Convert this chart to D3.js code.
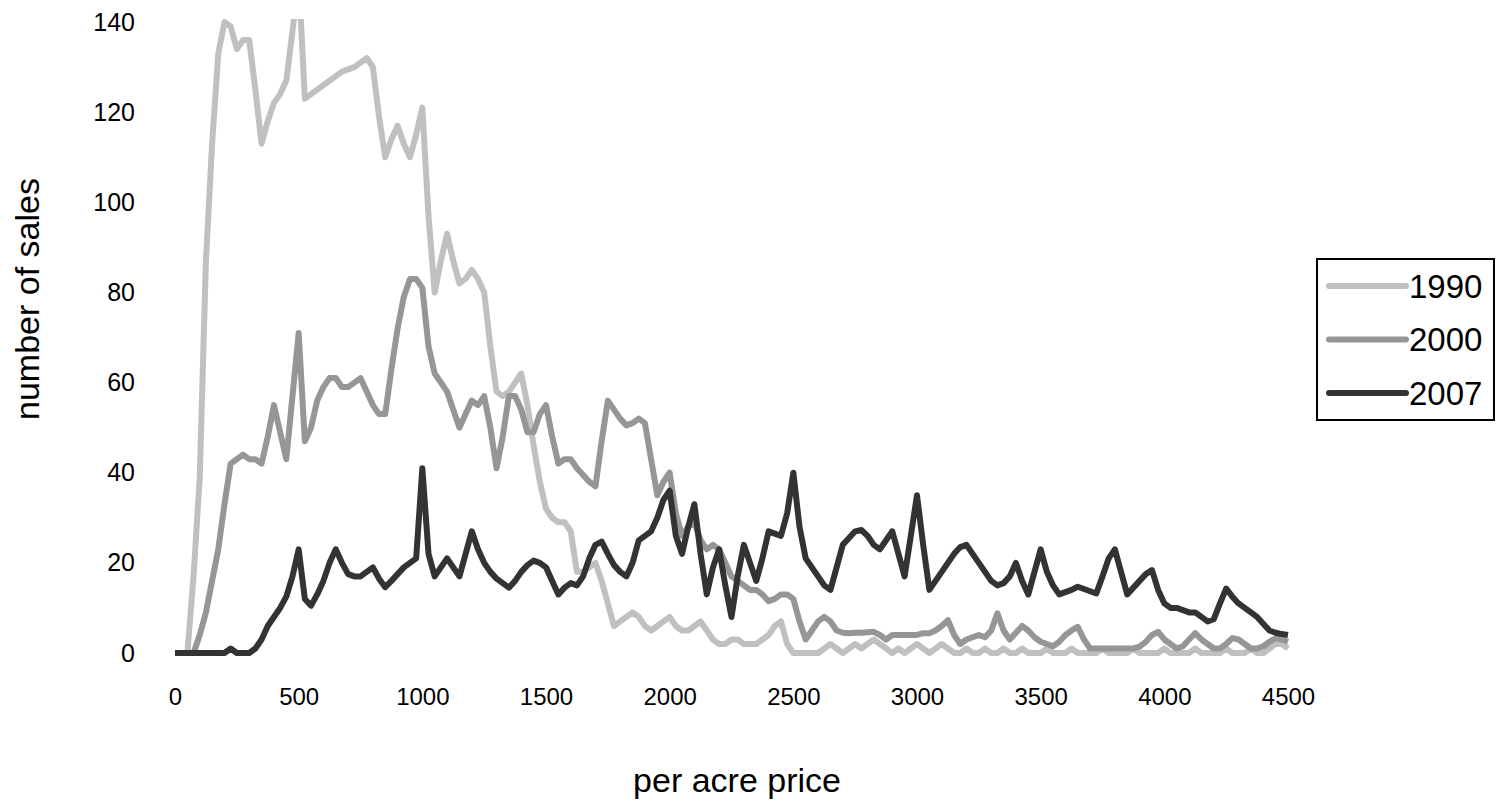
<!DOCTYPE html>
<html>
<head>
<meta charset="utf-8">
<script src="https://cdn.jsdelivr.net/npm/d3@7"></script>
<style>
  html, body { margin: 0; padding: 0; background: #fff; }
  svg { display: block; }
  text { font-family: "Liberation Sans", Arial, sans-serif; fill: #000; }
</style>
</head>
<body>
<svg id="chart" width="1501" height="801"></svg>
<script>
// price bins (step 25, 0..4500)
const prices = d3.range(0, 4501, 25);
const xTicks = [0, 500, 1000, 1500, 2000, 2500, 3000, 3500, 4000, 4500];
const yTicks = [0, 20, 40, 60, 80, 100, 120, 140];
const seriesNames = ["1990", "2000", "2007"];
const seriesColors = ["#c0c0c0", "#969696", "#333333"];

const sales1990 = [
  0,0,0,17,39,87,113,133,140,139,134,136,136,125,113,118,122,124,127,138,
  150,123,124,125,126,127,128,129,129.5,130,131,132,130,119,110,114,117,113,110,115,
  121,97,80,87,93,87,82,83,85,83,80,68,58,57,58,60,62,55,46,38,
  32,30,29,29,27,18,18,19,20,16,11,6,7,8,9,8,6,5,6,7,
  8,6,5,5,6,7,5,3,2,2,3,3,2,2,2,3,4,6,7,2,
  0,0,0,0,0,1,2,1,0,1,2,1,2,3,2,1,0,1,0,1,
  2,1,0,1,2,1,0,0,1,0,0,1,0,0,1,0,0,1,0,0,
  0,1,0,0,0,1,0,0,0,0,1,0,0,0,0,1,0,0,0,0,
  1,0,0,0,0,1,0,0,0,0,1,0,0,0,1,0,0,1,2,2,
  1
];
const sales2000 = [
  0,0,0,0,4,9,16,23,33,42,43,44,43,43,42,48,55,49,43,57,
  71,47,50,56,59,61,61,59,59,60,61,58,55,53,53,63,72,79,83,83,
  81,68,62,60,58,54,50,53,56,55,57,50,41,48,57,57,54,49,49,53,
  55,48,42,43,43,41,39.5,38,37,47,56,54,52,50.5,51,52,51,43,35,38,
  40,31,26,28,29,25,23,24,23,20,17,16,15,14,14,13,11.5,12,13,13,
  12,7,3,5,7,8,7,5,4.5,4.4,4.5,4.5,4.6,4.7,4,3,4,4,4,4,
  4,4.4,4.4,5,6,7.3,4,2,3,3.5,4,3.5,5,8.8,5,3,4.5,6,5,3.5,
  2.5,2,1.5,2.5,4,5,5.8,3,1,1,1,1,1,1,1,1,1.4,2.5,4,4.7,
  3,2,1,1.5,3,4.4,3,2,1,1,2,3.3,3,2,1,1,1.5,2.5,3.3,3,
  2.5
];
const sales2007 = [
  0,0,0,0,0,0,0,0,0,1,0,0,0,1,3,6,8,10,12.5,17,
  23,12,10.5,13,16,20,23,20,17.5,17,17,18,19,16.5,14.6,16,17.5,19,20,21,
  41,22,17,19,21,19,17,22,27,23,20,18,16.5,15.5,14.5,16,18,19.5,20.5,20,
  19,16,13,14.5,15.5,15,17,21,24,24.7,22,19.5,18,17,20,25,26,27,30,34,
  36,26,22,28,33,22,13,19,23,15,8,17,24,20,16,21,27,26.5,26,31,
  40,28,21,19,17,15,14,19,24,25.5,27,27.3,26,24,23,25,27,22,17,26,
  35,24,14,16,18,20,22,23.5,24,22,20,18,16,15,15.5,17,20,16,13,18,
  23,18,15,13,13.5,14,14.7,14.2,13.7,13.2,17,21,23,18,13,14.5,16,17.5,18.4,14,
  11,10,10,9.5,9,9,8,7,7.5,11,14.3,12.5,11,10,9,8,6.5,5,4.5,4.2,
  4
];
const allSeries = [sales1990, sales2000, sales2007];

const svg = d3.select("#chart");
const x = d3.scaleLinear().domain([0, 4500]).range([175, 1288]);
const y = d3.scaleLinear().domain([0, 140]).range([653, 22]);

svg.append("defs").append("clipPath").attr("id", "plotclip")
  .append("rect").attr("x", 160).attr("y", 19).attr("width", 1150).attr("height", 650);

// axes (labels only)
const xAxis = svg.append("g").attr("transform", `translate(0,${y(0)})`)
  .call(d3.axisBottom(x).tickValues(xTicks).tickSize(0).tickPadding(35).tickFormat(d3.format("d")));
xAxis.select(".domain").remove();
xAxis.selectAll("text").style("font-size", "24px").style("font-family", "Liberation Sans, Arial, sans-serif").attr("fill", "#000");

const yAxis = svg.append("g").attr("transform", `translate(${x(0)},0)`)
  .call(d3.axisLeft(y).tickValues(yTicks).tickSize(0).tickPadding(40).tickFormat(d3.format("d")));
yAxis.select(".domain").remove();
yAxis.selectAll("text").style("font-size", "25px").style("font-family", "Liberation Sans, Arial, sans-serif").attr("fill", "#000");

// lines
const line = d3.line().x((d, i) => x(prices[i])).y(d => y(d));
const plot = svg.append("g").attr("clip-path", "url(#plotclip)");
allSeries.forEach((vals, k) => {
  plot.append("path").datum(vals)
    .attr("d", line)
    .attr("fill", "none")
    .attr("stroke", seriesColors[k])
    .attr("stroke-width", 6)
    .attr("stroke-linejoin", "round")
    .attr("stroke-linecap", "butt");
});

// axis titles
svg.append("text").attr("x", 737).attr("y", 792).attr("text-anchor", "middle")
  .style("font-size", "34px").text("per acre price");
svg.append("text").attr("transform", "translate(39,299) rotate(-90)").attr("text-anchor", "middle")
  .style("font-size", "34px").text("number of sales");

// legend
const lg = svg.append("g");
lg.append("rect").attr("x", 1317).attr("y", 259).attr("width", 177).attr("height", 161)
  .attr("fill", "#fff").attr("stroke", "#000").attr("stroke-width", 2);
seriesNames.forEach((name, k) => {
  const ly = 286 + k * 53.5;
  lg.append("line").attr("x1", 1329).attr("x2", 1406).attr("y1", ly).attr("y2", ly)
    .attr("stroke", seriesColors[k]).attr("stroke-width", 6).attr("stroke-linecap", "round");
  lg.append("text").attr("x", 1409).attr("y", ly).attr("dy", "0.36em")
    .style("font-size", "33px").text(name);
});
</script>
</body>
</html>
